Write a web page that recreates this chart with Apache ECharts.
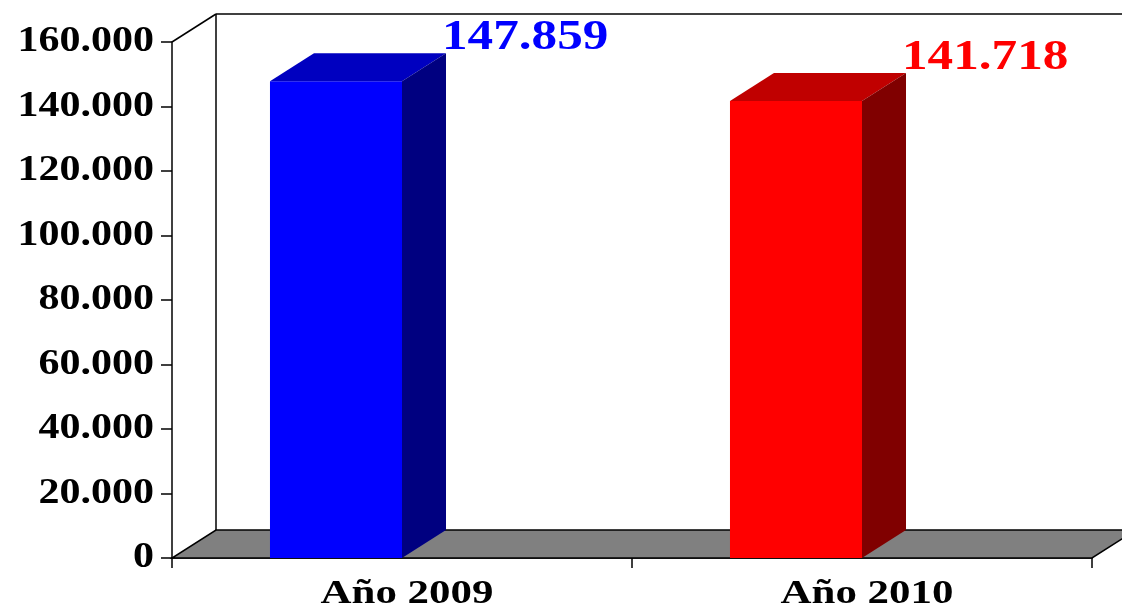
<!DOCTYPE html>
<html>
<head>
<meta charset="utf-8">
<title>Año 2009 – Año 2010</title>
<script src="https://cdn.jsdelivr.net/npm/echarts@6/dist/echarts.min.js"></script>
<style>
  html, body { margin: 0; padding: 0; background: #ffffff; }
  #chart { width: 1122px; height: 613px; }
</style>
</head>
<body>
<div id="chart"></div>
<script>
// Categories and yearly totals
const categories = ['Año 2009', 'Año 2010'];
const values = [147859, 141718];

// Value-axis ticks
const yTicks = [0, 20000, 40000, 60000, 80000, 100000, 120000, 140000, 160000];

// Face colours of each column (front, top, side)
const frontColors = ['#0000FF', '#FF0000'];
const topColors = ['#0000C0', '#C00000'];
const sideColors = ['#000080', '#800000'];

// 3D depth offset of the walls and columns, in pixels
const DX = 44;
const DY = -28;
const SERIF = 'Liberation Serif';

// Spanish thousands grouping: 147859 -> "147.859"
function fmt(v) {
  return String(Math.round(v)).replace(/\B(?=(\d{3})+(?!\d))/g, '.');
}

const chart = echarts.init(document.getElementById('chart'), null, { renderer: 'canvas' });

// Floor, back wall and side wall of the 3D frame
function renderFrame(params, api) {
  const r = params.coordSys;
  const x = r.x, y = r.y, w = r.width, h = r.height;
  const line = { stroke: '#000000', lineWidth: 1.5 };
  return {
    type: 'group',
    children: [
      { type: 'line', shape: { x1: x + DX, y1: y + DY, x2: x + w + DX + 60, y2: y + DY }, style: line },
      { type: 'line', shape: { x1: x + DX, y1: y + DY, x2: x + DX, y2: y + h + DY }, style: line },
      { type: 'line', shape: { x1: x, y1: y, x2: x + DX, y2: y + DY }, style: line },
      {
        type: 'polygon',
        shape: { points: [[x, y + h], [x + w, y + h], [x + w + DX, y + h + DY], [x + DX, y + h + DY]] },
        style: { fill: '#808080', stroke: '#000000', lineWidth: 1.5 }
      }
    ]
  };
}

// One 3D column with its value label
function renderColumn(params, api) {
  const idx = api.value(0);
  const val = api.value(1);
  const base = api.coord([idx, 0]);
  const top = api.coord([idx, val]);
  const band = api.size([1, 0])[0];
  const bw = band * 0.287;
  const xR = base[0];
  const xL = xR - bw;
  const yB = base[1];
  const yT = top[1];
  const i = params.dataIndex;
  return {
    type: 'group',
    children: [
      { type: 'rect', shape: { x: xL, y: yT, width: bw, height: yB - yT }, style: { fill: frontColors[i] } },
      {
        type: 'polygon',
        shape: { points: [[xL, yT], [xR, yT], [xR + DX, yT + DY], [xL + DX, yT + DY]] },
        style: { fill: topColors[i] }
      },
      {
        type: 'polygon',
        shape: { points: [[xR, yT], [xR + DX, yT + DY], [xR + DX, yB + DY], [xR, yB]] },
        style: { fill: sideColors[i] }
      },
      {
        type: 'text',
        x: xR + DX - 4,
        y: yT + DY - 15,
        scaleX: 1.19,
        style: {
          x: 0, y: 0,
          text: fmt(val),
          fill: frontColors[i],
          fontFamily: SERIF,
          fontWeight: 'bold',
          fontSize: 43,
          textAlign: 'left',
          textVerticalAlign: 'middle'
        }
      }
    ]
  };
}

// Value-axis tick labels
function renderYLabel(params, api) {
  const v = api.value(1);
  const p = api.coord([0, v]);
  return {
    type: 'text',
    x: params.coordSys.x - 18,
    y: p[1],
    scaleX: 1.2,
    style: {
      x: 0, y: 0,
      text: fmt(v),
      fill: '#000000',
      fontFamily: SERIF,
      fontWeight: 'bold',
      fontSize: 35,
      textAlign: 'right',
      textVerticalAlign: 'middle'
    }
  };
}

// Category labels under the floor
function renderXLabel(params, api) {
  const idx = api.value(0);
  const p = api.coord([idx, 0]);
  return {
    type: 'text',
    x: p[0] + 5,
    y: p[1] + 36,
    scaleX: 1.3,
    style: {
      x: 0, y: 0,
      text: categories[idx],
      fill: '#000000',
      fontFamily: SERIF,
      fontWeight: 'bold',
      fontSize: 33,
      textAlign: 'center',
      textVerticalAlign: 'middle'
    }
  };
}

const option = {
  backgroundColor: '#ffffff',
  animation: false,
  grid: { left: 172, right: 30, top: 42, bottom: 55 },
  xAxis: {
    type: 'category',
    data: categories,
    boundaryGap: true,
    axisLine: { show: true, lineStyle: { color: '#000000', width: 1.5 } },
    axisTick: { show: true, length: 10, lineStyle: { color: '#000000', width: 1.5 } },
    axisLabel: { show: false },
    splitLine: { show: false }
  },
  yAxis: {
    type: 'value',
    min: 0,
    max: 160000,
    interval: 20000,
    axisLine: { show: true, lineStyle: { color: '#000000', width: 1.5 } },
    axisTick: { show: true, length: 11, lineStyle: { color: '#000000', width: 1.5 } },
    axisLabel: { show: false },
    splitLine: { show: false }
  },
  series: [
    { type: 'custom', name: 'frame', z: 1, silent: true, renderItem: renderFrame, data: [[0, 0]] },
    {
      type: 'custom', name: 'Total', z: 3, renderItem: renderColumn,
      data: values.map((v, i) => [i, v])
    },
    {
      type: 'custom', name: 'yLabels', z: 3, silent: true, renderItem: renderYLabel,
      data: yTicks.map(v => [0, v])
    },
    {
      type: 'custom', name: 'xLabels', z: 3, silent: true, renderItem: renderXLabel,
      data: categories.map((c, i) => [i, 0])
    }
  ]
};

chart.setOption(option);
</script>
</body>
</html>
